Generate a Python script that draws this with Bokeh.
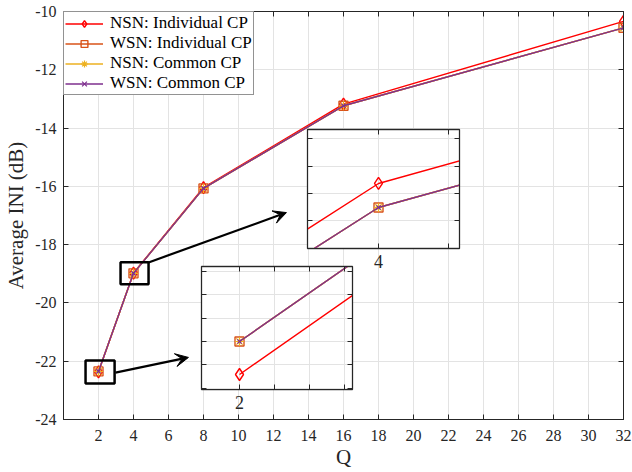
import numpy as np
from bokeh.plotting import figure
from bokeh.layouts import column
from bokeh.models import (LinearAxis, FixedTicker, Arrow, VeeHead, Range1d)
from bokeh.embed import file_html
from bokeh.resources import INLINE

# ---------------- data ----------------
Q = [2, 4, 8, 16, 32]
nsn_individual = [-22.362, -18.975, -16.040, -13.180, -10.340]
wsn_individual = [-22.350, -18.985, -16.070, -13.235, -10.560]
nsn_common = [-22.350, -18.985, -16.070, -13.235, -10.560]
wsn_common = [-22.350, -18.985, -16.070, -13.235, -10.560]

x_ticks = list(range(2, 33, 2))
y_ticks = list(range(-24, -9, 2))

series = [
    ("NSN: Individual CP", nsn_individual, "#ff0000", "diamond", 12),
    ("WSN: Individual CP", wsn_individual, "#d95319", "square", 9),
    ("NSN: Common CP", nsn_common, "#edb120", "asterisk", 9),
    ("WSN: Common CP", wsn_common, "#7e2f8e", "x", 6),
]

FONT = "Liberation Serif"
AX = "#262626"
GRID = "#e3e3e3"
BL, BR = 63, 9   # main figure left/right borders (insets share them in the column)


def style_axis(ax, ticks, show_labels=True, size="16px"):
    ax.ticker = FixedTicker(ticks=ticks)
    ax.axis_line_color = AX
    ax.major_tick_line_color = AX
    ax.major_tick_in = 5
    ax.major_tick_out = 0
    ax.minor_tick_line_color = None
    ax.major_label_text_font = FONT
    ax.major_label_text_color = AX
    if show_labels:
        ax.major_label_text_font_size = size
        ax.major_label_overrides = {t: ("%g" % t) for t in ticks}
    else:
        ax.major_label_text_font_size = "1px"
        ax.major_label_standoff = 0
        ax.major_label_overrides = {t: "" for t in ticks}


def draw_series(fig, legend=False):
    for name, ys, col, mk, sz in series:
        kw = dict(legend_label=name) if legend else {}
        fig.line(Q, ys, line_color=col, line_width=1.4, **kw)
        if mk in ("asterisk", "x"):
            fig.scatter(Q, ys, marker=mk, size=sz, line_color=col, line_width=1.2, **kw)
        else:
            fig.scatter(Q, ys, marker=mk, size=sz, line_color=col, fill_color=None,
                        line_width=1.4, **kw)


# ---------------- main figure ----------------
p = figure(frame_width=560, frame_height=408, x_range=(0, 32), y_range=(-24, -10),
           output_backend="svg", toolbar_location=None,
           min_border_left=BL, min_border_right=BR, min_border_top=11, min_border_bottom=53)
p.background_fill_color = "white"
p.border_fill_color = "white"
p.outline_line_color = AX
p.outline_line_width = 1

style_axis(p.xaxis[0], x_ticks)
style_axis(p.yaxis[0], y_ticks)
p.xaxis.major_label_standoff = 10
p.yaxis.major_label_standoff = 7
p.xaxis.axis_label = "Q"
p.yaxis.axis_label = "Average INI (dB)"
for ax in p.xaxis + p.yaxis:
    ax.axis_label_text_font = FONT
    ax.axis_label_text_font_style = "normal"
    ax.axis_label_text_font_size = "21px"
    ax.axis_label_text_color = AX
p.xaxis.axis_label_standoff = 1
p.yaxis.axis_label_standoff = 4

top = LinearAxis()
right = LinearAxis()
style_axis(top, x_ticks, False)
style_axis(right, y_ticks, False)
p.add_layout(top, "above")
p.add_layout(right, "right")

p.grid.grid_line_color = GRID
p.grid.grid_line_width = 1
p.xgrid.ticker = FixedTicker(ticks=x_ticks)
p.ygrid.ticker = FixedTicker(ticks=y_ticks)

draw_series(p, legend=True)

# zoom boxes around Q=4 and Q=2
p.rect(x=[Q[1] + 0.06, Q[0] + 0.09], y=[wsn_common[1] - 0.0, wsn_common[0] - 0.02],
       width=[1.6, 1.66], height=[0.755, 0.79],
       fill_color=None, line_color="black", line_width=2.5)

p.add_layout(Arrow(end=VeeHead(size=13, fill_color="black", line_color="black"),
                   x_start=4.86, y_start=-18.61, x_end=12.74, y_end=-16.90,
                   line_color="black", line_width=2.2))
p.add_layout(Arrow(end=VeeHead(size=13, fill_color="black", line_color="black"),
                   x_start=2.97, y_start=-22.39, x_end=7.14, y_end=-21.87,
                   line_color="black", line_width=2.2))

lg = p.legend[0]
lg.location = "top_left"
lg.margin = 0
lg.padding = 1
lg.spacing = 0
lg.label_text_font = FONT
lg.label_text_font_size = "17px"
lg.label_text_color = "black"
lg.label_height = 17
lg.glyph_height = 17
lg.glyph_width = 38
lg.label_standoff = 7
lg.border_line_color = AX
lg.border_line_width = 1
lg.background_fill_alpha = 1


# ---------------- insets ----------------
def make_inset(xr, yr, xt, yt, label_val, fw, fh, left, topp):
    f = figure(width=BL + fw + BR, height=fh + 40, x_range=Range1d(*xr), y_range=Range1d(*yr),
               output_backend="svg", toolbar_location=None,
               min_border_left=BL, min_border_right=BR, min_border_top=10, min_border_bottom=30)
    f.background_fill_color = "white"
    f.border_fill_alpha = 0
    f.outline_line_color = "#404040"
    f.outline_line_width = 1.3
    style_axis(f.xaxis[0], xt, True, "18px")
    f.xaxis.major_label_standoff = 6
    f.xaxis.major_label_overrides = {t: (str(label_val) if abs(t - label_val) < 1e-9 else "") for t in xt}
    style_axis(f.yaxis[0], yt, False)
    t = LinearAxis()
    r = LinearAxis()
    style_axis(t, xt, False)
    style_axis(r, yt, False)
    f.add_layout(t, "above")
    f.add_layout(r, "right")
    f.grid.grid_line_color = GRID
    f.xgrid.ticker = FixedTicker(ticks=xt)
    f.ygrid.ticker = FixedTicker(ticks=yt)
    draw_series(f)
    f.styles = {"position": "absolute", "left": "%dpx" % (left - BL), "top": "%dpx" % (topp - 10)}
    return f


ins1 = make_inset((3.98877, 4.01281), (-19.0021, -18.9525),
                  [4.0, 4.01107], [-18.9904, -18.9792, -18.9679, -18.9562],
                  4, 152, 119, 307, 129)
ins2 = make_inset((1.99429, 2.01698), (-22.36745, -22.32273),
                  [2.0, 2.00526, 2.01052, 2.01578],
                  [-22.3670, -22.3585, -22.3500, -22.3415, -22.3330, -22.3245],
                  2, 151, 123, 201, 266)

layout = column(p, ins1, ins2)
layout.styles = {"position": "relative"}

open("out.html", "w").write(file_html(layout, INLINE))
